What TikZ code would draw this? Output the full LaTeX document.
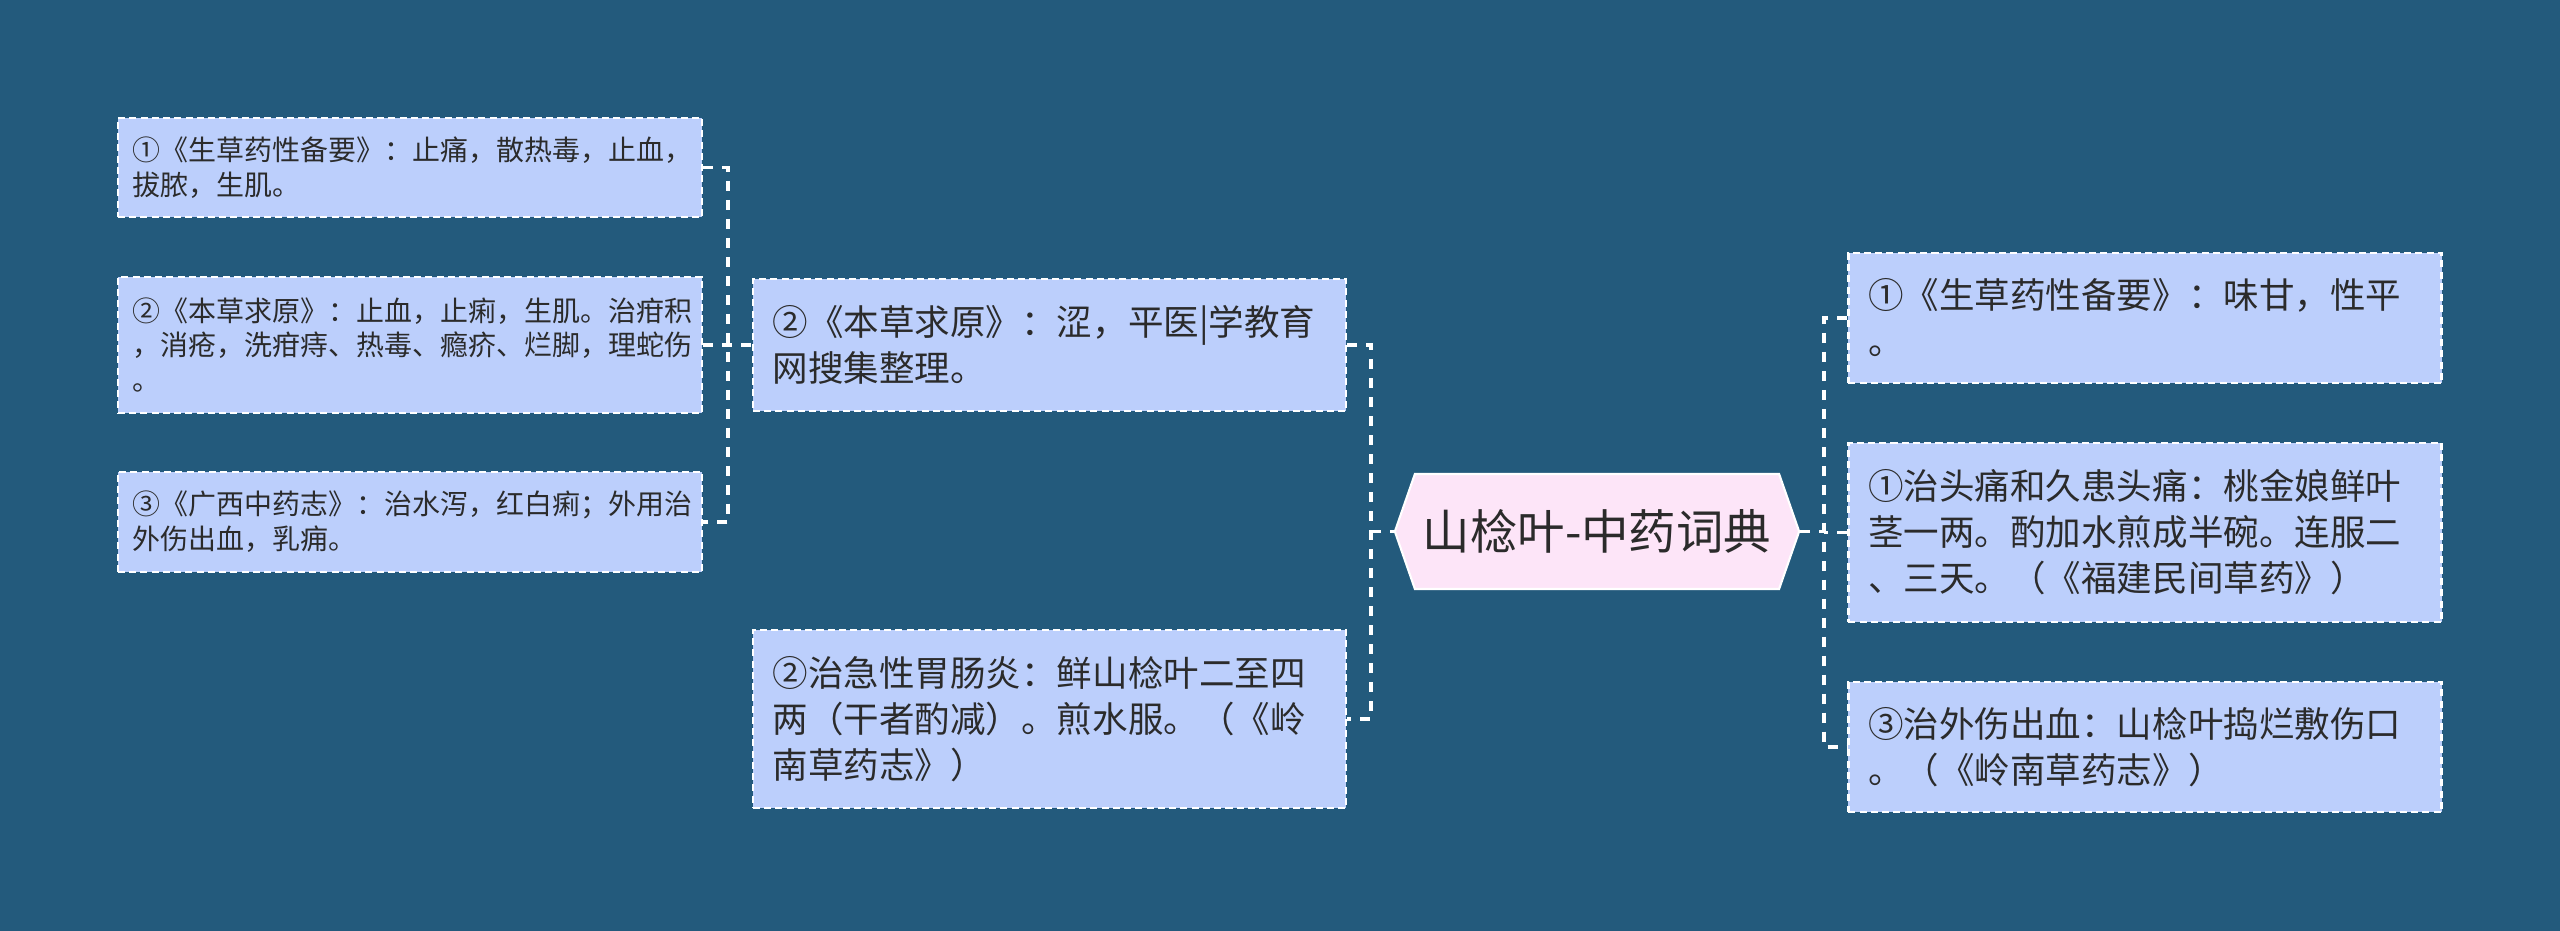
\documentclass[tikz,border=0pt]{standalone}
\usepackage{fontspec}
\setmainfont{Noto Sans CJK SC}
\usepackage{tikz}
\usetikzlibrary{shapes.symbols}
\definecolor{bg}{HTML}{235A7C}
\definecolor{leaf}{HTML}{BCCFFC}
\definecolor{rootfill}{HTML}{FDE5F8}
\definecolor{ink}{HTML}{2B2B2B}
\tikzset{
    link/.style={draw=white, line width=0.9pt, dash pattern=on 2.8pt off 2.6pt},
    leafbox/.style={
        draw=white,
        fill=leaf,
        line width=0.7pt,
        dash pattern=on 2pt off 1.2pt,
        text=ink,
        align=left,
        inner ysep=0pt,
    },
    smallleaf/.style={
        leafbox,
        font=\fontsize{7.95pt}{9.9pt}\selectfont,
        text width=5.54cm,
        inner xsep=0.15cm,
    },
    bigleaf/.style={
        leafbox,
        font=\fontsize{10.1pt}{13.1pt}\selectfont,
        text width=5.53cm,
        inner xsep=0.2cm,
    },
    rootbox/.style={
        signal, signal to=west and east,
        signal pointer angle=141.6,
        draw=white, line width=0.6pt,
        fill=rootfill, text=ink,
        minimum width=4.04cm, minimum height=1.15cm,
        inner sep=0pt,
        font=\fontsize{13.5pt}{16pt}\selectfont,
    },
}

\begin{document}
\begin{tikzpicture}[x=0.01cm, y=-0.01cm]
        \useasboundingbox (0,0) rectangle (2560,931);
        \fill[bg] (0,0) rectangle (2560,931);

        % centre topic
        \node[rootbox] (root) at (1597,531.5) {山棯叶-中药词典};

        % left outer column
        \node[smallleaf, minimum height=0.99cm] (lv1) at (410,167.5) {①《生草药性备要》：止痛，散热毒，止血，\\拔脓，生肌。};
        \node[smallleaf, minimum height=1.36cm] (lv2) at (410,345) {②《本草求原》：止血，止痢，生肌。治疳积\\，消疮，洗疳痔、热毒、瘾疥、烂脚，理蛇伤\\。};
        \node[smallleaf, minimum height=1.00cm] (lv3) at (410,522) {③《广西中药志》：治水泻，红白痢；外用治\\外伤出血，乳痈。};

        % left inner column
        \node[bigleaf, minimum height=1.32cm] (mid1) at (1049.5,345) {②《本草求原》：涩，平医|学教育\\网搜集整理。};
        \node[bigleaf, minimum height=1.78cm] (mid2) at (1049.5,719) {②治急性胃肠炎：鲜山棯叶二至四\\两（干者酌减）。煎水服。（《岭\\南草药志》）};

        % right column
        \node[bigleaf, minimum height=1.30cm] (rv1) at (2145,318) {①《生草药性备要》：味甘，性平\\。};
        \node[bigleaf, minimum height=1.79cm] (rv2) at (2145,532.5) {①治头痛和久患头痛：桃金娘鲜叶\\茎一两。酌加水煎成半碗。连服二\\、三天。（《福建民间草药》）};
        \node[bigleaf, minimum height=1.30cm] (rv3) at (2145,747) {③治外伤出血：山棯叶捣烂敷伤口\\。（《岭南草药志》）};

        % bus lines
        \coordinate (lbus) at (728,345);
        \coordinate (mbus) at (1371,531.5);
        \coordinate (rbus) at (1824,531.5);

        \draw[link] (lv1.east) -- (lv1.east -| lbus) -- (lv3.east -| lbus) -- (lv3.east);
        \draw[link] (lv2.east) -- (mid1.west);

        \draw[link] (mid1.east) -- (mid1.east -| mbus) -- (mid2.east -| mbus) -- (mid2.east);
        \draw[link] (mbus) -- (root.west);

        \draw[link] (root.east) -- (rbus);
        \draw[link] (rv1.west) -- (rv1.west -| rbus) -- (rv3.west -| rbus) -- (rv3.west);
        \draw[link] (rv2.west) -- (rv2.west -| rbus);
\end{tikzpicture}
\end{document}
